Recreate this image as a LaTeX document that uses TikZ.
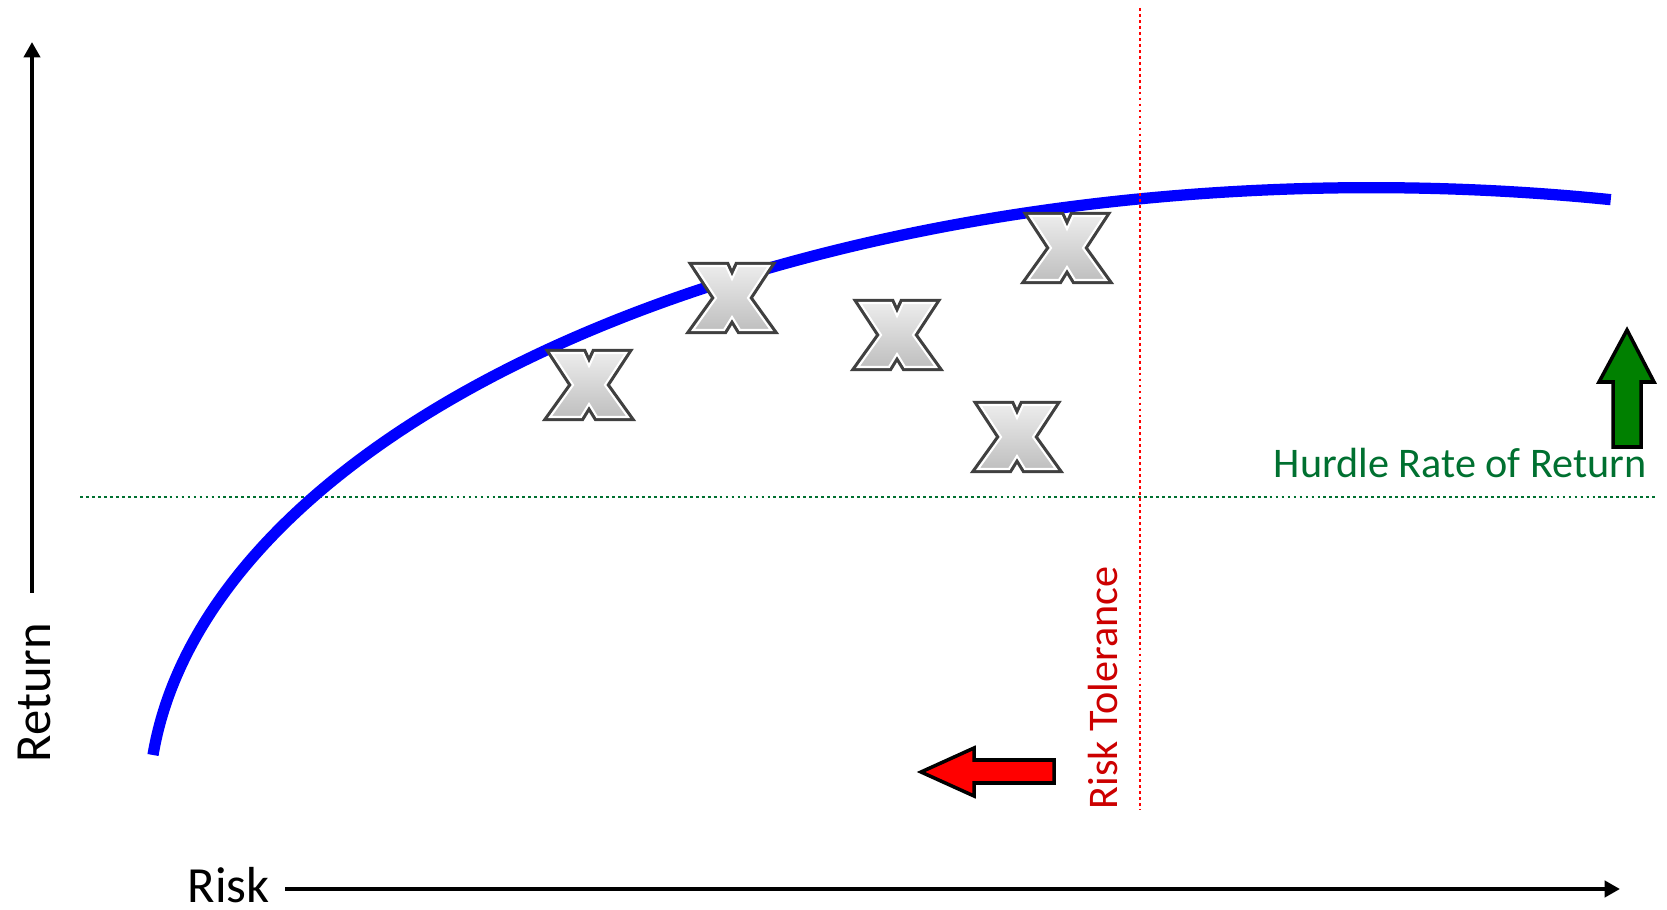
\documentclass[tikz,border=0pt]{standalone}
\usepackage{fontspec}
\setmainfont{Carlito}
\usepackage{xcolor}
\usetikzlibrary{arrows.meta}
\definecolor{hurdlegreen}{RGB}{0,112,48}
\definecolor{tolred}{RGB}{204,0,0}
\definecolor{upgreen}{RGB}{0,128,0}
\newcommand{\xoutline}{(-37,-32) -- (-6,-32) -- (0,-19) -- (6,-32) -- (37,-32) -- (16,0) -- (39,32) -- (8,32) -- (0,19) -- (-8,32) -- (-39,32) -- (-16,0) -- cycle}

\begin{document}
\begin{tikzpicture}[x=0.01cm,y=-0.01cm,>={Triangle[length=4.4pt,width=4.6pt]},
  axis/.style={->,line width=1.2pt},
  axlab/.style={font=\fontsize{14.4}{17}\selectfont,inner sep=0pt},
  reflab/.style={font=\fontsize{12}{14}\selectfont,inner sep=0pt},
  refline/.style={line width=0.8pt,dash pattern=on 0.8pt off 0.9pt},
  frontier/.style={draw=blue,line width=3.2pt},
  blockarrow/.style={draw=black,line width=1pt},
  xglyph/.pic={
    \fill[black!30,shift={(1.5,2)}] \xoutline;
    \draw[black!75,line width=2.4pt] \xoutline;
    \shade[top color=gray!15,middle color=white,bottom color=gray!50,draw=white,line width=0.6pt] \xoutline;
  }]
  \useasboundingbox (0,0) rectangle (1667,910);

  % axes
  \node[axlab,rotate=90,anchor=base west] (ret) at (50,763) {Return};
  \node[axlab,anchor=base west] (risk) at (187,902) {Risk};
  \coordinate (ybot) at (32,593);
  \coordinate (ytop) at (32,42);
  \coordinate (xbeg) at (285,889);
  \coordinate (xend) at (1620,889);
  \draw[axis] (ybot) -- (ytop);
  \draw[axis] (xbeg) -- (xend);

  % hurdle rate, frontier and risk tolerance
  \coordinate (hl) at (80,497);
  \coordinate (hr) at (1656,497);
  \draw[refline,hurdlegreen] (hl) -- (hr);
  \coordinate (f0) at (153,755);
  \draw[frontier] (f0) arc[start angle=175.1,end angle=78.7,x radius=12.22cm,y radius=6.2cm];
  \coordinate (tt) at (1140,8);
  \coordinate (tb) at (1140,810);
  \draw[refline,red] (tt) -- (tb);
  \node[reflab,hurdlegreen,anchor=base west] (hurdle) at (1273,478) {Hurdle Rate of Return};
  \node[reflab,tolred,rotate=90,anchor=base west] (tol) at (1117,810) {Risk Tolerance};

  % block arrows
  \draw[blockarrow,fill=red] (1054,760) -- (974,760) -- (974,748) -- (921,772) -- (974,796) -- (974,783) -- (1054,783) -- cycle;
  \draw[blockarrow,fill=upgreen] (1613,447) -- (1613,382) -- (1599,382) -- (1627,330) -- (1654,382) -- (1641,382) -- (1641,447) -- cycle;

  % projects
  \pic (p1) at (589,385) {xglyph};
  \pic (p2) at (732,298) {xglyph};
  \pic (p3) at (897,335) {xglyph};
  \pic (p4) at (1017,437) {xglyph};
  \pic (p5) at (1067,248) {xglyph};
\end{tikzpicture}
\end{document}
